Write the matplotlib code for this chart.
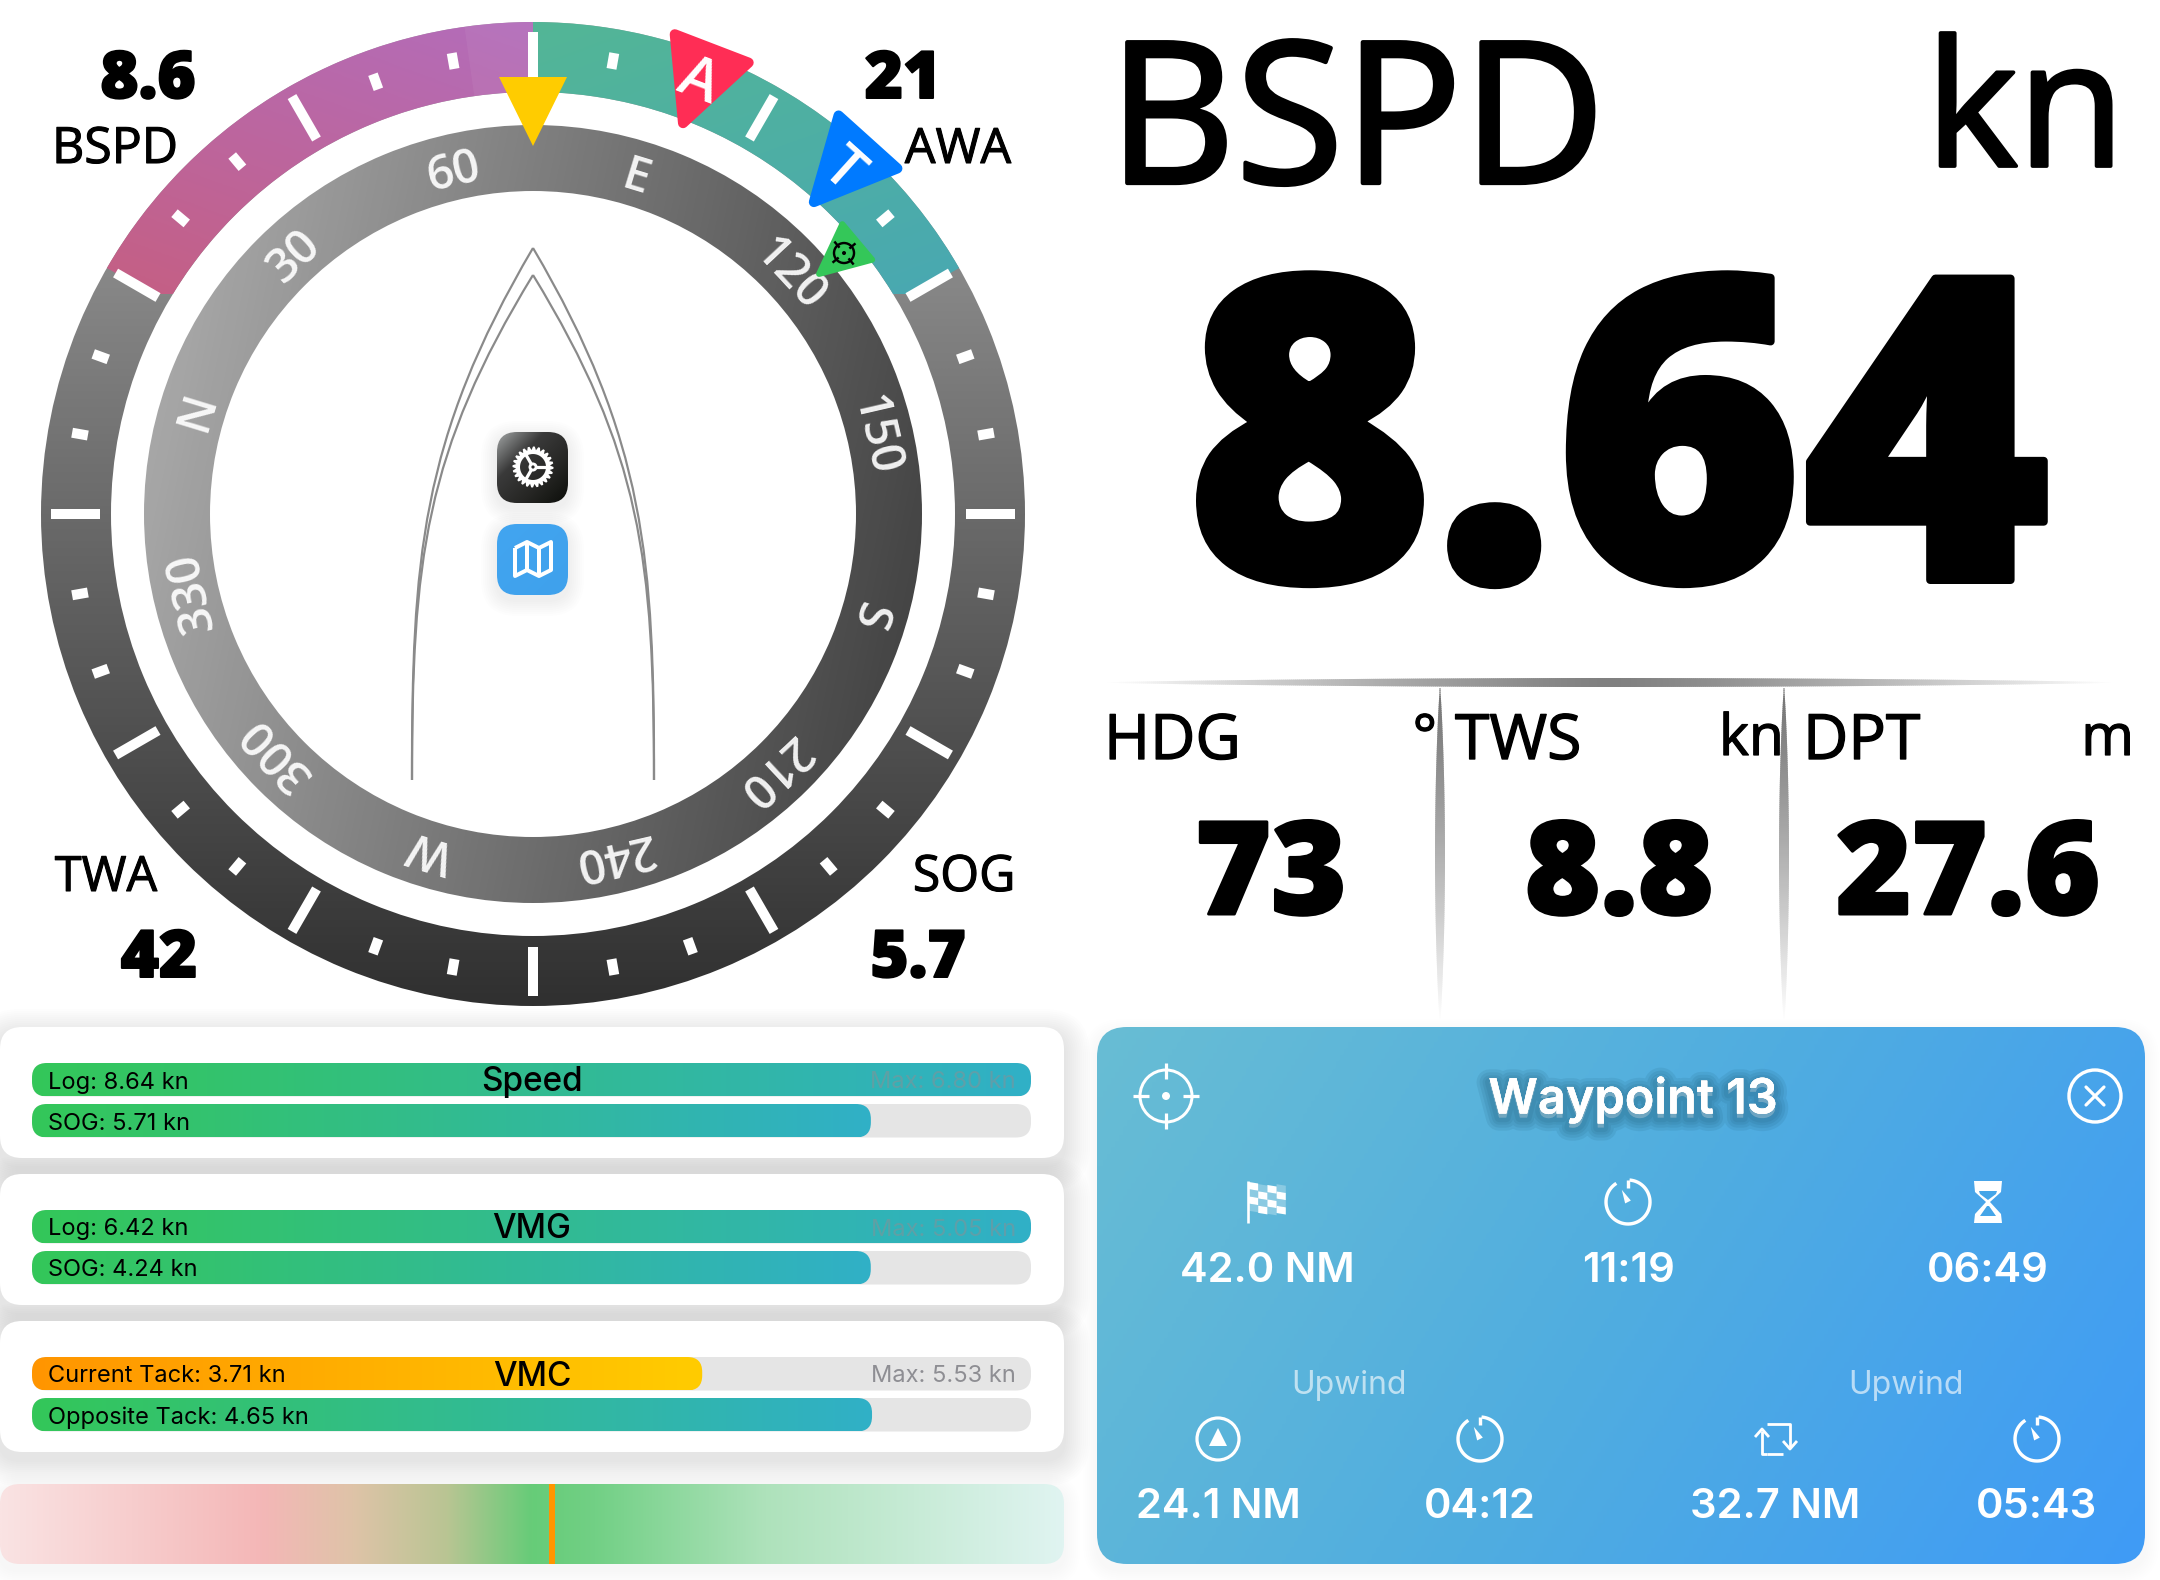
import numpy as np
import matplotlib
matplotlib.use("Agg")
import matplotlib.pyplot as plt
import matplotlib.patheffects as pe
from matplotlib.colors import LinearSegmentedColormap
from matplotlib.patches import Circle, FancyBboxPatch, PathPatch, Polygon, Wedge
from matplotlib.path import Path

# instrument values
corner_labels = ["BSPD", "AWA", "TWA", "SOG"]
corner_values = ["8.6", "21", "42", "5.7"]
awa_angle = 21
twa_angle = 42
btw_angle = 50
heading = 73
compass_degrees = [0, 30, 60, 90, 120, 150, 180, 210, 240, 270, 300, 330]
compass_labels = ["N", "30", "60", "E", "120", "150", "S", "210", "240", "W", "300", "330"]

main_label = "BSPD"
main_unit = "kn"
main_value = "8.64"
sub_labels = ["HDG", "TWS", "DPT"]
sub_units = ["°", "kn", "m"]
sub_values = ["73", "8.8", "27.6"]

# performance bars
card_titles = ["Speed", "VMG", "VMC"]
top_names = ["Log", "Log", "Current Tack"]
top_speeds = [8.64, 6.42, 3.71]
bottom_names = ["SOG", "SOG", "Opposite Tack"]
bottom_speeds = [5.71, 4.24, 4.65]
max_speeds = [6.80, 5.05, 5.53]
tack_position = 0.5187

# waypoint panel
waypoint_name = "Waypoint 13"
upper_values = ["42.0 NM", "11:19", "06:49"]
lower_values = ["24.1 NM", "04:12", "32.7 NM", "05:43"]
lower_caption = "Upwind"

CX, CY = 533, 514
SANS = ["Open Sans", "DejaVu Sans"]
UI = ["Inter", "Roboto", "DejaVu Sans"]
HEAVY = ["Open Sans", "DejaVu Sans"]

fig = plt.figure(figsize=(21.6, 15.8), dpi=100)
ax = fig.add_axes([0, 0, 1, 1])
ax.set_axis_off()


def px(v):
    return v * 72 / 100


def pt(angle, r, cx=CX, cy=CY):
    a = np.radians(angle)
    return cx + r * np.sin(a), cy - r * np.cos(a)


def gradient(extent, stops, angle=0, clip=None, z=1, alpha=None):
    # linear gradient image, clipped to a patch
    x0, x1, y0, y1 = extent
    n = 256
    xx, yy = np.meshgrid(np.linspace(0, 1, n), np.linspace(0, 1, n))
    a = np.radians(angle)
    w = (x1 - x0) * np.cos(a)
    h = (y1 - y0) * np.sin(a)
    t = (xx * w + yy * h)
    t = (t - t.min()) / (t.max() - t.min())
    cmap = LinearSegmentedColormap.from_list("g", stops)
    im = ax.imshow(t, extent=(x0, x1, y1, y0), cmap=cmap, vmin=0, vmax=1,
                   zorder=z, aspect="auto", alpha=alpha, interpolation="bilinear")
    if clip is not None:
        ax.add_patch(clip)
        clip.set_visible(False)
        im.set_clip_path(clip)
    return im


def rbox(x0, y0, x1, y1, r, **kw):
    return FancyBboxPatch((x0 + r, y0 + r), x1 - x0 - 2 * r, y1 - y0 - 2 * r,
                          boxstyle="round,pad=%s,rounding_size=%s" % (r, r), lw=0, **kw)


def shadow(x0, y0, x1, y1, r, dy=8, blur=26, strength=0.006, z=2):
    for i in range(blur, 0, -2):
        ax.add_patch(rbox(x0 - i, y0 - i + dy, x1 + i, y1 + i + dy, r + i,
                          fc="black", alpha=strength, zorder=z))


def line(xs, ys, width, color="white", z=10, cap="butt", alpha=None):
    ax.plot(xs, ys, color=color, lw=px(width), solid_capstyle=cap, zorder=z, alpha=alpha,
            solid_joinstyle="round")


def heavy(x, y, s, size, stroke, z=10):
    ax.text(x, y, s, fontsize=size, family=HEAVY, weight=800, ha="center", va="baseline",
            color="black", zorder=z,
            path_effects=[pe.withStroke(linewidth=px(stroke), foreground="black")])


def label(x, y, s, size, ha="left", z=10):
    ax.text(x, y, s, fontsize=size, family=SANS, weight="medium", ha=ha, va="baseline", color="black", zorder=z,
            path_effects=[pe.withStroke(linewidth=px(size * 0.03), foreground="black")])


def marker(angle, r_tip, r_base, half, color, z):
    tip = np.array(pt(angle, r_tip))
    mid = np.array(pt(angle, r_base))
    side = np.array([np.cos(np.radians(angle)), np.sin(np.radians(angle))])
    verts = np.array([tip, mid + side * half, mid - side * half])
    c = verts.mean(axis=0)
    ax.add_patch(Polygon(c + (verts - c) * 0.86, closed=True, fc=color, ec=color, lw=px(half * 0.22),
                         joinstyle="round", zorder=z))


def stopwatch(cx, cy, r=22):
    a = np.linspace(4, 328, 60)
    x, y = pt(a, r, cx, cy)
    line(x, y, 3.4)
    line([cx, cx], [cy - r, cy - r + 8], 3.4)
    tip = np.array(pt(-27, r * 0.62, cx, cy))
    side = np.array([np.cos(np.radians(-27)), np.sin(np.radians(-27))]) * 3.2
    c = np.array([cx, cy])
    ax.add_patch(Polygon([tip, c + side, c - side], fc="white", lw=0, zorder=10))


def fade_rule(pos, start, end, half, vertical):
    # tapered divider, drawn as short grey slices
    ts = np.arange(start, end, 2.0)
    for s in ts:
        f = (s - start) / (end - start)
        w = max(half * np.sin(np.pi * f) ** 0.7, 0.5)
        if vertical:
            c = min(0.46 + 0.54 * f ** 1.2, 1.0)
            corners = [(pos - w, s), (pos + w, s), (pos + w, s + 2.6), (pos - w, s + 2.6)]
        else:
            c = min(0.5 + 0.5 * abs(2 * f - 1) ** 1.3, 1.0)
            corners = [(s, pos - w), (s + 2.6, pos - w), (s + 2.6, pos + w), (s, pos + w)]
        ax.add_patch(Polygon(corners, fc=str(c), lw=0, zorder=3, snap=False))


# ---- outer ring
ring = Wedge((CX, CY), 492, 0, 360, width=70)
gradient((CX - 492, CX + 492, CY - 492, CY + 492), ["#a6a6a6", "#6a6a6a", "#303030"], 90, ring, z=2)
port = Wedge((CX, CY), 492, -60 - 90, -90, width=70)
gradient((CX - 430, CX, CY - 492, CY - 220), ["#b36dbb", "#c55f83"], 110, port, z=3)
stbd = Wedge((CX, CY), 492, -90, 60 - 90, width=70)
gradient((CX, CX + 430, CY - 492, CY - 220), ["#53b696", "#49a8b2"], 70, stbd, z=3)
ax.add_patch(Wedge((CX, CY), 492, -8 - 90, -90, width=70, fc="white", alpha=0.05, lw=0, zorder=4))

for deg in range(0, 360, 10):
    if deg % 30 == 0:
        x, y = pt(deg, np.array([433, 482]))
        line(x, y, 10, z=5)
    else:
        x, y = pt(deg, np.array([452, 468]))
        line(x, y, 10, z=5)

# ---- compass ring
inner = Wedge((CX, CY), 389, 0, 360, width=66)
gradient((CX - 389, CX + 389, CY - 389, CY + 389), ["#b0b0b0", "#3c3c3c"], 12, inner, z=6)
for deg, lab in zip(compass_degrees, compass_labels):
    a = deg - heading
    x, y = pt(a, 356)
    ax.text(x, y, lab, fontsize=34, family=SANS, weight="semibold", color="white", alpha=0.92, ha="center",
            va="center_baseline", rotation=-a, rotation_mode="anchor", zorder=7)

# ---- pointers
ax.add_patch(Polygon([(CX - 34, 77), (CX + 34, 77), (CX, 146)], fc="#ffcc00", lw=0, zorder=8))
marker(awa_angle, 410, 503, 46, "#ff2d55", 9)
marker(twa_angle, 411, 505, 46, "#007aff", 9)
marker(btw_angle, 368, 426, 27, "#34c759", 9)
for s, a, r in [("A", awa_angle, 469), ("T", twa_angle, 468)]:
    x, y = pt(a, r)
    ax.text(x, y, s, fontsize=42, family=SANS, weight="semibold", color="white", ha="center", va="center_baseline",
            rotation=-a, rotation_mode="anchor", zorder=10)
bx, by = pt(btw_angle, 406)
ax.add_patch(Circle((bx, by), 10, fc="none", ec="black", lw=px(2.4), zorder=10))
for a in [btw_angle + 90 * k for k in range(4)]:
    x, y = pt(a, np.array([7, 15]), bx, by)
    line(x, y, 2.4, "black")
ax.add_patch(Circle((bx, by), 2, fc="black", lw=0, zorder=10))

# ---- boat outline
for tip_y, c2 in [(248, (420, 440)), (275, (425, 452))]:
    for side in (-1, 1):
        verts = [(CX + side * 121, 780), (CX + side * 121, 560),
                 (CX + side * (CX - c2[0]), c2[1]), (CX, tip_y)]
        ax.add_patch(PathPatch(Path(verts, [Path.MOVETO, Path.CURVE4, Path.CURVE4, Path.CURVE4]),
                               fc="none", ec="#8a8a8a", lw=px(2.2), zorder=8))

# ---- app buttons
shadow(497, 432, 568, 503, 20, dy=5, blur=16, strength=0.008, z=8)
shadow(497, 524, 568, 595, 20, dy=5, blur=16, strength=0.008, z=8)
btn = rbox(497, 432, 568, 503, 20, fc="none")
gradient((497, 568, 432, 503), ["#a2a5a5", "#3a3a3a", "#262624", "#0c0e0a"], 45, btn, z=9)
btn = rbox(497, 524, 568, 595, 20, fc="none")
gradient((497, 568, 524, 595), ["#42a5f0", "#3fa1ec"], 45, btn, z=9)

gx, gy = 533, 467
teeth = np.linspace(0, 360, 73)[:-1]
radii = np.tile([20.5, 20.5, 17], 24)
outer_x, outer_y = pt(teeth, radii, gx, gy)
hole_a = np.linspace(360, 0, 49)
hole_x, hole_y = pt(hole_a, 13, gx, gy)
gear_verts = np.vstack([np.column_stack([outer_x, outer_y]), [[outer_x[0], outer_y[0]]],
                        np.column_stack([hole_x, hole_y])])
gear_codes = [Path.MOVETO] + [Path.LINETO] * 71 + [Path.CLOSEPOLY, Path.MOVETO] + [Path.LINETO] * 47 + [Path.CLOSEPOLY]
ax.add_patch(PathPatch(Path(gear_verts, gear_codes), fc="white", lw=0, zorder=10))
for a in (90, 210, 330):
    x, y = pt(a, np.array([0, 14]), gx, gy)
    line(x, y, 3.2)
ax.add_patch(Circle((gx, gy), 4.5, fc="white", lw=0, zorder=10))
ax.add_patch(Circle((gx, gy), 1.6, fc="#2a2a2a", lw=0, zorder=11))

mx, my = 533, 559
map_x = np.array([-18, -6, 6, 18, 18, 6, -6, -18, -18])
map_y = np.array([-11, -17, -11, -17, 11, 17, 11, 17, -11])
line(mx + map_x, my + map_y, 4, z=11)
line([mx - 6, mx - 6], [my - 17, my + 11], 4, z=11)
line([mx + 6, mx + 6], [my - 11, my + 17], 4, z=11)

# ---- corner read-outs
label(115, 163, corner_labels[0], 36, "center")
label(958, 163, corner_labels[1], 35, "center")
label(106, 891, corner_labels[2], 35, "center")
label(964, 891, corner_labels[3], 36, "center")
heavy(148, 98, corner_values[0], 47, 2)
heavy(903, 98, corner_values[1], 47, 2)
heavy(159, 977, corner_values[2], 47, 2)
heavy(918, 977, corner_values[3], 47, 2)

# ---- main read-out
label(1108, 183, main_label, 142, "left")
label(2125, 166, main_unit, 126, "right")
heavy(1618, 580, main_value, 304, 8)

fade_rule(682.5, 1105, 2112, 4.5, False)
fade_rule(1440, 688, 1020, 5.0, True)
fade_rule(1784, 688, 1020, 5.0, True)

sub_left = [1104, 1455, 1803]
sub_right = [1437, 1784, 2134]
sub_centers = [1271, 1619, 1968]
for i in range(3):
    label(sub_left[i], 759, sub_labels[i], 45, "left", z=5)
    label(sub_right[i], 755, sub_units[i], 41, "right", z=5)
    heavy(sub_centers[i], 914, sub_values[i], 93, 3)

# ---- performance cards
card_tops = [1027, 1174, 1321]
for i in range(3):
    top = card_tops[i]
    shadow(0, top, 1064, top + 131, 20)
    ax.add_patch(rbox(0, top, 1064, top + 131, 22, fc="white", zorder=3))
    y1 = top + 36
    y2 = top + 77
    left, right = 32, 1031
    for y in (y1, y2):
        ax.add_patch(rbox(left, y, right, y + 33.5, 15, fc="#e5e5e5", zorder=4))
    w1 = min(top_speeds[i] / max_speeds[i], 1.0) * (right - left)
    w2 = min(bottom_speeds[i] / max_speeds[i], 1.0) * (right - left)
    stops1 = ["#34c759", "#30b0c7"] if i < 2 else ["#ff9500", "#ffcc00"]
    gradient((left, left + w1, y1, y1 + 33.5), stops1, 0, rbox(left, y1, left + w1, y1 + 33.5, 15, fc="none"), z=5)
    gradient((left, left + w2, y2, y2 + 33.5), ["#34c759", "#30b0c7"], 0, rbox(left, y2, left + w2, y2 + 33.5, 15, fc="none"), z=5)
    ax.text(48, y1 + 17, "%s: %.2f kn" % (top_names[i], top_speeds[i]), fontsize=17, family=UI,
            ha="left", va="center_baseline", color="black", zorder=6)
    ax.text(48, y2 + 17, "%s: %.2f kn" % (bottom_names[i], bottom_speeds[i]), fontsize=17, family=UI,
            ha="left", va="center_baseline", color="black", zorder=6)
    ax.text(532, y1 + 16, card_titles[i], fontsize=24, family=UI, weight="medium",
            ha="center", va="center_baseline", color="black", zorder=6)
    ax.text(1016, y1 + 17, "Max: %.2f kn" % max_speeds[i], fontsize=17, family=UI, ha="right",
            va="center_baseline", color="#8e8e93", alpha=0.5 if w1 >= right - left else 1, zorder=6)

# ---- tack strip
shadow(0, 1484, 1064, 1564, 18, dy=6, blur=16, strength=0.003)
strip = rbox(0, 1484, 1064, 1564, 20, fc="none")
gradient((0, 1064, 1484, 1564), [(0, "#fae3e3"), (0.245, "#f4b7b7"), (0.33, "#dfc3a8"), (0.42, "#b9c593"),
                                 (0.5, "#66cc78"), (0.56, "#72d085"), (0.72, "#aee2bb"), (1, "#e0f4f1")], 0, strip, z=3)
tx = tack_position * 1064
line([tx, tx], [1484, 1564], 6, "#ff9500", z=5)

# ---- waypoint panel
shadow(1097, 1027, 2145, 1564, 26, dy=6, blur=14, strength=0.004)
panel = rbox(1097, 1027, 2145, 1564, 30, fc="none")
gradient((1097, 2145, 1027, 1564), ["#68bdd4", "#50ade0", "#3f9bf6"], 32, panel, z=3)

title_fx = [pe.withStroke(linewidth=px(w), foreground="#1a5570", alpha=0.11, offset=(0, -3)) for w in (26, 20, 14, 9)]
ax.text(1633, 1095, waypoint_name, fontsize=35, family=UI, weight="semibold", ha="center", va="center_baseline",
        color="white", zorder=6, path_effects=title_fx + [pe.Normal()])

# crosshair
cx_, cy_ = 1166, 1096
ax.add_patch(Circle((cx_, cy_), 26, fc="none", ec="white", lw=px(3), zorder=6))
for dx, dy in [(0, -1), (0, 1), (1, 0), (-1, 0)]:
    line([cx_ + dx * 17, cx_ + dx * 33], [cy_ + dy * 17, cy_ + dy * 33], 3.2, z=6)
ax.add_patch(Circle((cx_, cy_), 4, fc="white", lw=0, zorder=6))

# close
ax.add_patch(Circle((2095, 1096), 26, fc="none", ec="white", lw=px(3.4), zorder=6))
line([2086, 2104], [1087, 1105], 3.2, z=6, cap="round")
line([2086, 2104], [1105, 1087], 3.2, z=6, cap="round")

row1_x = [1267, 1628, 1988]
row2_x = [1218, 1480, 1775, 2037]
for x, s in zip(row1_x, upper_values):
    ax.text(x, 1267, s, fontsize=30, family=UI, weight="semibold", color="white", ha="center", va="center_baseline", zorder=6)
for x, s in zip(row2_x, lower_values):
    ax.text(x, 1503, s, fontsize=30, family=UI, weight="semibold", color="white", ha="center", va="center_baseline", zorder=6)
for x in (1349, 1906):
    ax.text(x, 1382, lower_caption, fontsize=23, family=UI, color="white", alpha=0.62, ha="center", va="center_baseline", zorder=6)

# flag
fx, fy = 1267, 1202
line([fx - 19, fx - 19], [fy - 21, fy + 21], 2.6, z=6)
for r_ in range(4):
    for c_ in range(4):
        x0 = fx - 18 + c_ * 9.2
        wave = 3 * np.sin(c_ / 1.3)
        y0 = fy - 20 + r_ * 7.2 + wave
        color_alpha = 1.0 if (r_ + c_) % 2 == 0 else 0.28
        ax.add_patch(Polygon([(x0, y0), (x0 + 9.2, y0 + 1.5), (x0 + 9.2, y0 + 8.7), (x0, y0 + 7.2)],
                             fc="white", alpha=color_alpha, lw=0, zorder=6))

stopwatch(row1_x[1], 1202)
stopwatch(row2_x[1], 1439)
stopwatch(row2_x[3], 1439)

# hourglass
hx, hy = 1988, 1202
ax.add_patch(Polygon([(hx - 14, hy - 21), (hx + 14, hy - 21), (hx + 13, hy - 10), (hx + 2, hy), (hx + 13, hy + 12),
                      (hx + 14, hy + 21), (hx - 14, hy + 21), (hx - 13, hy + 12), (hx - 2, hy), (hx - 13, hy - 10)],
                     fc="white", lw=0, zorder=6))
ax.add_patch(Polygon([(hx - 9, hy - 11), (hx + 9, hy - 11), (hx + 8, hy - 8), (hx, hy - 2), (hx - 8, hy - 8)], fc="#45a5e8", lw=0, zorder=7))
ax.add_patch(Polygon([(hx - 1, hy + 4), (hx + 1, hy + 4), (hx + 8, hy + 14), (hx - 8, hy + 14)], fc="#45a5e8", lw=0, zorder=7))

# upwind arrow
ux, uy = row2_x[0], 1439
ax.add_patch(Circle((ux, uy), 21, fc="none", ec="white", lw=px(3.2), zorder=6))
ax.add_patch(Polygon([(ux, uy - 11), (ux + 9, uy + 7), (ux - 9, uy + 7)], fc="white", lw=0, zorder=6))

# tack arrows
kx, ky = row2_x[2], 1439
line([kx - 13, kx - 13, kx - 8], [ky - 8, ky + 15, ky + 15], 2.8, z=6)
line([kx - 8, kx + 15, kx + 15], [ky - 15, ky - 15, ky + 8], 2.8, z=6)
line([kx - 20, kx - 13, kx - 6], [ky - 2, ky - 10, ky - 2], 2.8, z=6)
line([kx + 8, kx + 15, kx + 22], [ky + 2, ky + 10, ky + 2], 2.8, z=6)
line([kx - 8, kx + 8], [ky + 15, ky + 15], 2.8, z=6)

ax.set_xlim(0, 2160)
ax.set_ylim(1580, 0)
fig.savefig("out.png", dpi=100, facecolor="white")
